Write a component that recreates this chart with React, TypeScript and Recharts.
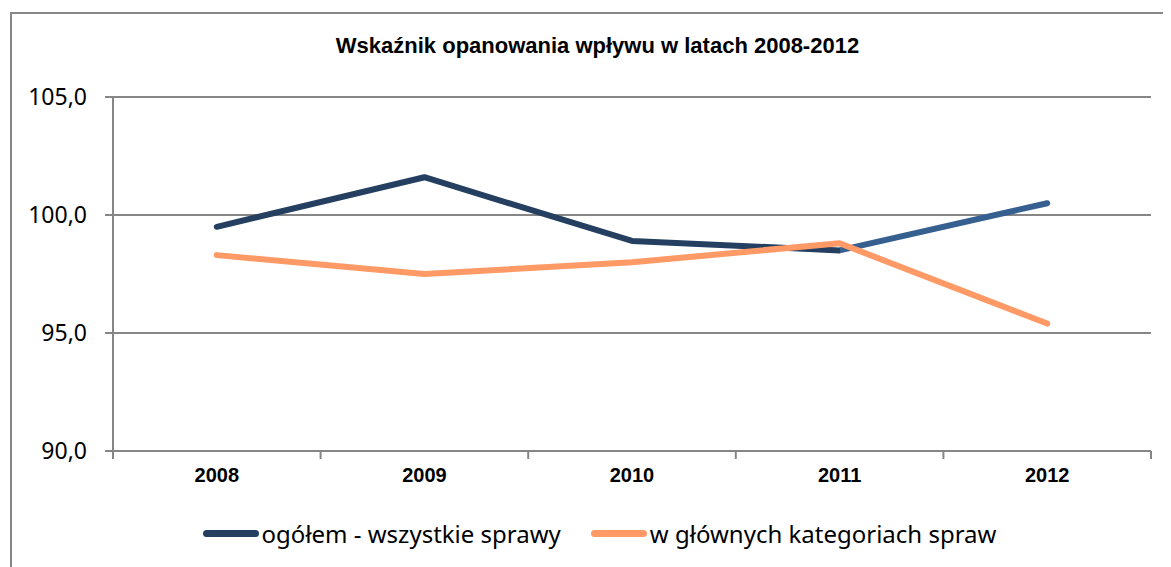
import React from 'react';
import { LineChart, Line, XAxis, YAxis, CartesianGrid } from 'recharts';

const categories = ['2008', '2009', '2010', '2011', '2012'];
const ogolem = [99.5, 101.6, 98.9, 98.5, 100.5];
const glowne = [98.3, 97.5, 98.0, 98.8, 95.4];
const yTicks = [90, 95, 100, 105];
const seriesNames = ['ogółem - wszystkie sprawy', 'w głównych kategoriach spraw'];
const title = 'Wskaźnik opanowania wpływu w latach 2008-2012';

const data = categories.map((c, i) => ({ year: c, ogolem: ogolem[i], glowne: glowne[i] }));

const W = 1163;
const H = 559;
const M = { top: 89, right: 20, bottom: 76, left: 10 };
const YW = 95;
const XH = 40;
const plotW = W - M.left - M.right - YW;
const band = plotW / categories.length;

const DARK = '#243F60';
const DARK2 = '#36608F';
const ORANGE = '#FF9966';
const GRID = '#868686';
const lastSegOffset = (categories.length - 2) / (categories.length - 1);

const XTick = (props: any) => {
  const { x, y, payload, index } = props;
  const i = payload?.index ?? index ?? 0;
  return (
    <g>
      <line x1={x - band / 2} x2={x - band / 2} y1={y - 8} y2={y} stroke={GRID} strokeWidth={2} />
      {i === categories.length - 1 && (
        <line x1={x + band / 2} x2={x + band / 2} y1={y - 8} y2={y} stroke={GRID} strokeWidth={2} />
      )}
      <text
        x={x}
        y={y + 23}
        textAnchor="middle"
        fontFamily="'Liberation Sans Narrow', 'Arial Narrow', 'Liberation Sans', sans-serif"
        fontWeight="bold"
        fontSize={20}
        fill="#000"
      >
        {payload.value}
      </text>
    </g>
  );
};

export default function App() {
  return (
    <div style={{ position: 'relative', width: W, height: H, overflow: 'hidden', background: '#fff' }}>
      <svg width={0} height={0} style={{ position: 'absolute' }}>
        <defs>
          <linearGradient id="darkGrad" x1="0" y1="0" x2="1" y2="0">
            <stop offset={0} stopColor={DARK} />
            <stop offset={lastSegOffset} stopColor={DARK} />
            <stop offset={lastSegOffset} stopColor={DARK2} />
            <stop offset={1} stopColor={DARK2} />
          </linearGradient>
        </defs>
      </svg>
      <div
        style={{
          position: 'absolute',
          left: 2,
          top: 4,
          width: 1300,
          height: 700,
          border: `2px solid ${GRID}`,
          boxSizing: 'border-box',
        }}
      />
      <div
        style={{
          position: 'absolute',
          left: 0,
          width: W + 16,
          top: 25,
          textAlign: 'center',
          fontFamily: "'Liberation Sans Narrow', 'Arial Narrow', 'Liberation Sans', sans-serif",
          fontWeight: 'bold',
          fontSize: 22,
          color: '#000',
        }}
      >
        {title}
      </div>
      <div style={{ position: 'absolute', left: 0, top: 0 }}>
        <LineChart width={W} height={H} data={data} margin={M}>
          <CartesianGrid vertical={false} stroke={GRID} strokeWidth={2} />
          <XAxis
            dataKey="year"
            height={XH}
            axisLine={{ stroke: GRID, strokeWidth: 2 }}
            tickLine={false}
            tick={<XTick />}
            interval={0}
            padding={{ left: band / 2, right: band / 2 }}
          />
          <YAxis
            width={YW}
            domain={[90, 105]}
            ticks={yTicks}
            axisLine={{ stroke: GRID, strokeWidth: 2 }}
            tickLine={{ stroke: GRID, strokeWidth: 2 }}
            tickSize={8}
            tickMargin={18}
            tickFormatter={(v: number) => v.toFixed(1).replace('.', ',')}
            tick={{ fill: '#000', fontSize: 23, fontFamily: "'Noto Sans', sans-serif" }}
          />
          <Line
            dataKey="ogolem"
            stroke="url(#darkGrad)"
            strokeWidth={6}
            strokeLinecap="round"
            strokeLinejoin="round"
            dot={false}
            activeDot={false}
            isAnimationActive={false}
          />
          <Line
            dataKey="glowne"
            stroke={ORANGE}
            strokeWidth={6}
            strokeLinecap="round"
            strokeLinejoin="round"
            dot={false}
            activeDot={false}
            isAnimationActive={false}
          />
        </LineChart>
      </div>
      <div
        style={{
          position: 'absolute',
          left: 0,
          width: W + 20,
          top: 509,
          display: 'flex',
          justifyContent: 'center',
          alignItems: 'center',
          gap: 30,
          fontFamily: "'Noto Sans', sans-serif",
          fontSize: 24,
          color: '#000',
        }}
      >
        {seriesNames.map((n, i) => (
          <div key={n} style={{ display: 'flex', alignItems: 'center' }}>
            <div
              style={{
                width: 56,
                height: 7,
                borderRadius: 4,
                background: i === 0 ? DARK : ORANGE,
                marginRight: 3,
              }}
            />
            <span>{n}</span>
          </div>
        ))}
      </div>
    </div>
  );
}
